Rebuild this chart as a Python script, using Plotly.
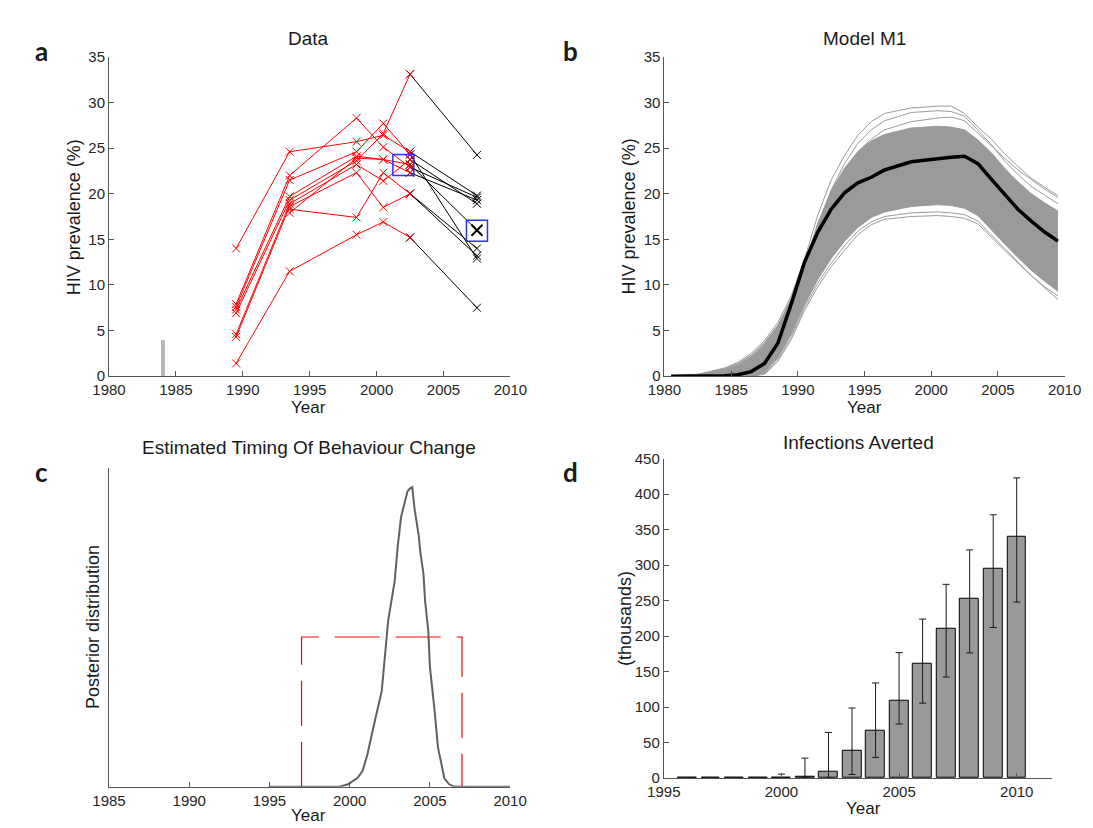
import plotly.graph_objects as go

# ---------------- data ----------------
# Panel a: survey prevalence by site (%)
survey_years = [1989.5, 1993.5, 1998.5, 2000.5, 2002.5, 2007.5]
site_1 = [14.0, 24.6, 25.7, 26.4, 24.6, 19.8]
site_2 = [7.9, 22.0, 28.3, 25.1, 22.9, 19.6]
site_3 = [7.6, 21.5, 24.6, 27.7, 24.3, 12.9]
site_4 = [7.3, 19.7, 24.1, 23.75, 22.3, 19.3]
site_5 = [6.9, 19.3, 23.6, 26.6, 33.1, 24.25]
site_6 = [4.6, 18.9, 23.2, 21.4, 23.75, 18.9]
site_7 = [4.3, 18.6, 22.3, 18.5, 20.0, 13.2]
site_8 = [1.4, 11.5, 15.5, 16.9, 15.2, 7.5]
site_9 = [None, 18.3, 17.4, 22.3, 20.0, 14.0]
site_10 = [None, 17.9, 23.9, 23.75, 23.2, 16.0]
sites = [site_1, site_2, site_3, site_4, site_5, site_6, site_7, site_8, site_9, site_10]
mean_marker_x = [2002.0, 2007.5]
mean_marker_y = [23.15, 15.95]
first_case_year = [1984]
first_case_value = [4.0]

# Panel b: model M1 trajectories (%)
model_years = [1980.5, 1982.5, 1984.5, 1985.5, 1986.5, 1987.5, 1988.5, 1989.5, 1990.5,
               1991.5, 1992.5, 1993.5, 1994.5, 1995.5, 1996.5, 1998.5, 2000.5, 2001.5,
               2002.5, 2003.5, 2004.5, 2005.5, 2006.5, 2007.5, 2008.5, 2009.5]
model_mean = [0.0, 0.0, 0.05, 0.15, 0.5, 1.4, 3.6, 7.9, 12.5, 15.8, 18.3, 20.1, 21.2,
              21.8, 22.6, 23.5, 23.85, 24.0, 24.1, 23.3, 21.6, 19.9, 18.3, 17.0, 15.8, 14.8]
core_upper = [0.05, 0.15, 0.7, 1.2, 2.1, 3.5, 5.5, 8.5, 12.3, 16.8, 20.3, 22.8, 24.6,
              25.8, 26.5, 27.2, 27.4, 27.3, 27.0, 25.9, 24.5, 22.8, 21.3, 20.0, 19.0, 18.1]
core_lower = [0.0, 0.0, 0.0, 0.0, 0.05, 0.4, 2.0, 4.6, 7.8, 10.6, 12.9, 14.8, 16.3,
              17.4, 18.0, 18.6, 18.8, 18.7, 18.4, 17.6, 16.0, 14.5, 13.0, 11.6, 10.4, 9.3]
run_high_1 = [0.05, 0.2, 0.9, 1.5, 2.5, 3.9, 5.9, 8.8, 12.8, 17.7, 21.5, 24.2, 26.4,
              27.9, 28.8, 29.4, 29.6, 29.6, 28.8, 27.3, 26.0, 24.4, 23.0, 21.7, 20.7, 19.8]
run_high_2 = [0.05, 0.2, 0.8, 1.4, 2.3, 3.7, 5.6, 8.3, 12.0, 16.5, 20.4, 23.3, 25.5,
              27.0, 28.0, 28.9, 29.1, 29.0, 28.5, 27.0, 25.4, 23.6, 22.1, 20.8, 19.8, 18.9]
run_high_3 = [0.05, 0.15, 0.75, 1.3, 2.2, 3.6, 5.4, 8.1, 11.6, 15.9, 19.6, 22.5, 24.6,
              26.0, 27.0, 27.9, 28.3, 28.4, 28.0, 26.6, 25.3, 23.9, 22.6, 21.5, 20.5, 19.6]
run_low_1 = [0.0, 0.0, 0.0, 0.0, 0.0, 0.2, 1.6, 4.0, 7.2, 9.8, 12.0, 13.8, 15.5,
             16.6, 17.2, 17.5, 17.6, 17.5, 17.3, 16.7, 15.2, 13.8, 12.4, 11.0, 9.7, 8.4]
run_low_2 = [0.0, 0.0, 0.0, 0.0, 0.02, 0.3, 1.8, 4.3, 7.5, 10.2, 12.4, 14.3, 15.9,
             16.9, 17.5, 17.9, 18.0, 17.9, 17.7, 17.0, 15.5, 13.9, 12.4, 11.0, 9.8, 8.8]
outlier_runs = [run_high_1, run_high_2, run_high_3, run_low_1, run_low_2]

# Panel c: posterior density of behaviour-change year
post_years = [1995, 1999.3, 1999.9, 2000.5, 2000.8, 2001.1, 2001.6, 2002.0, 2002.4,
              2002.8, 2003.0, 2003.2, 2003.6, 2003.75, 2003.9, 2004.05, 2004.3, 2004.4,
              2004.6, 2004.7, 2004.9, 2005.0, 2005.3, 2005.5, 2005.9, 2006.2, 2006.5,
              2007.1, 2010]
post_density = [0, 0, 0.0017, 0.0061, 0.0105, 0.0214, 0.0455, 0.064, 0.111, 0.137,
                0.161, 0.180, 0.197, 0.199, 0.200, 0.185, 0.168, 0.157, 0.142, 0.124,
                0.104, 0.080, 0.050, 0.0267, 0.0057, 0.0017, 0.0002, 0, 0]
prior_x = [1997, 1997, 2007, 2007]
prior_y = [0, 0.1, 0.1, 0]

# Panel d: infections averted (thousands)
bar_years = [1996, 1997, 1998, 1999, 2000, 2001, 2002, 2003, 2004, 2005, 2006, 2007, 2008, 2009, 2010]
averted = [0.2, 0.3, 0.4, 0.5, 0.8, 1.5, 9.2, 38.1, 67.0, 108.4, 160.7, 210.8, 253.0, 295.3, 340.3]
averted_upper = [0.2, 0.3, 0.4, 0.5, 5.5, 28.0, 64.3, 98.7, 134.0, 176.8, 224.0, 273.0, 321.5, 371.0, 423.0]
averted_lower = [0.2, 0.3, 0.4, 0.5, 0.3, 0.5, 0.0, 5.0, 29.0, 76.2, 105.6, 142.4, 176.3, 212.2, 248.0]

# ---------------- figure ----------------
W, H = 1093, 828
def px(x):
    return x / W
def py(y):
    return 1 - y / H

RED = "#ff0000"
BLACK = "#000000"
BLUE = "#2f2fff"
fig = go.Figure()

def xmark(color, size=8, width=1):
    return dict(symbol="x-thin-open", size=size, color=color,
                line=dict(color=color, width=width))

# Panel a
fig.add_trace(go.Bar(x=first_case_year, y=first_case_value, width=[0.3],
                     marker=dict(color="#b8b8b8", line=dict(width=0)),
                     xaxis="x", yaxis="y", showlegend=False))
for s in sites:
    fig.add_trace(go.Scatter(x=survey_years[4:6], y=s[4:6], mode="lines+markers",
                             line=dict(color=BLACK, width=1), marker=xmark(BLACK),
                             xaxis="x", yaxis="y", showlegend=False))
for s in sites:
    xs = [x for x, v in zip(survey_years[:5], s[:5]) if v is not None]
    ys = [v for v in s[:5] if v is not None]
    fig.add_trace(go.Scatter(x=xs, y=ys, mode="lines+markers",
                             line=dict(color=RED, width=1), marker=xmark(RED),
                             xaxis="x", yaxis="y", showlegend=False))
fig.add_trace(go.Scatter(x=[survey_years[5]], y=[site_10[5]], mode="markers",
                         marker=xmark(BLACK, size=11, width=2),
                         xaxis="x", yaxis="y", showlegend=False))
fig.add_trace(go.Scatter(x=mean_marker_x, y=mean_marker_y, mode="markers",
                         marker=dict(symbol="square-open", size=21, color=BLUE,
                                     line=dict(color=BLUE, width=1.5)),
                         xaxis="x", yaxis="y", showlegend=False))

# Panel b
GRAY = "#9a9a9a"
fig.add_trace(go.Scatter(x=model_years, y=core_lower, mode="lines",
                         line=dict(color=GRAY, width=1), xaxis="x2", yaxis="y2",
                         showlegend=False))
fig.add_trace(go.Scatter(x=model_years, y=core_upper, mode="lines", fill="tonexty",
                         fillcolor=GRAY, line=dict(color=GRAY, width=1),
                         xaxis="x2", yaxis="y2", showlegend=False))
for r in outlier_runs:
    fig.add_trace(go.Scatter(x=model_years, y=r, mode="lines",
                             line=dict(color=GRAY, width=1), xaxis="x2", yaxis="y2",
                             showlegend=False))
fig.add_trace(go.Scatter(x=model_years, y=model_mean, mode="lines",
                         line=dict(color=BLACK, width=3.5), xaxis="x2", yaxis="y2",
                         showlegend=False))

# Panel c
fig.add_trace(go.Scatter(x=prior_x, y=prior_y, mode="lines",
                         line=dict(color=RED, width=1.2, dash="45px,16px"),
                         xaxis="x3", yaxis="y3", showlegend=False))
fig.add_trace(go.Scatter(x=post_years, y=post_density, mode="lines",
                         line=dict(color="#606060", width=2), xaxis="x3", yaxis="y3",
                         showlegend=False))

# Panel d
err_plus = [u - v for u, v in zip(averted_upper, averted)]
err_minus = [v - l for v, l in zip(averted, averted_lower)]
fig.add_trace(go.Bar(x=bar_years, y=averted, width=0.8,
                     marker=dict(color="#999999", line=dict(color=BLACK, width=1)),
                     error_y=dict(type="data", symmetric=False, array=err_plus,
                                  arrayminus=err_minus, color="#1a1a1a",
                                  thickness=1, width=3.5),
                     xaxis="x4", yaxis="y4", showlegend=False))

TICKFONT = dict(family="Liberation Sans, Arial, sans-serif", size=15, color="#262626")
def ax(**kw):
    base = dict(showline=True, linecolor="#555555", linewidth=1, ticks="inside",
                ticklen=5, tickcolor="#555555", showgrid=False, zeroline=False,
                tickfont=TICKFONT, fixedrange=True)
    base.update(kw)
    return base

fig.update_layout(
    width=W, height=H, margin=dict(l=0, r=0, t=0, b=0),
    paper_bgcolor="white", plot_bgcolor="white", showlegend=False,
    bargap=0,
    xaxis=ax(domain=[px(86.7), px(501)], range=[1980, 2010], tickvals=[1980, 1985, 1990, 1995, 2000, 2005, 2010], anchor="y"),
    yaxis=ax(domain=[py(366.7), py(40.7)], range=[0, 35], tickvals=[0, 5, 10, 15, 20, 25, 30, 35], anchor="x"),
    xaxis2=ax(domain=[px(660), px(1073)], range=[1980, 2010], tickvals=[1980, 1985, 1990, 1995, 2000, 2005, 2010], anchor="y2"),
    yaxis2=ax(domain=[py(366.7), py(40.7)], range=[0, 35], tickvals=[0, 5, 10, 15, 20, 25, 30, 35], anchor="x2"),
    xaxis3=ax(domain=[px(86.7), px(500.7)], range=[1985, 2010], tickvals=[1985, 1990, 1995, 2000, 2005, 2010], anchor="y3"),
    yaxis3=ax(domain=[py(786), py(460.7)], range=[0, 0.2126], ticks="", showticklabels=False, anchor="x3"),
    xaxis4=ax(domain=[px(659.3), px(1060)], range=[1995, 2011.5], tickvals=[1995, 2000, 2005, 2010], anchor="y4"),
    yaxis4=ax(domain=[py(777), py(451)], range=[0, 450], tickvals=list(range(0, 451, 50)), anchor="x4"),
)

FONT = "Liberation Sans, Arial, sans-serif"
def label(text, x, y, size=17, angle=0, bold=False, family=FONT):
    fig.add_annotation(text=("<b>%s</b>" % text) if bold else text,
                       x=px(x), y=py(y), xref="paper", yref="paper",
                       showarrow=False, textangle=angle, xanchor="center", yanchor="middle",
                       font=dict(family=family, size=size, color="#1a1a1a"))

label("Data", 293, 22, size=19)
label("Model M1", 866, 22, size=19)
label("Estimated Timing Of Behaviour Change", 293, 440, size=19)
label("Infections Averted", 860, 434, size=19)
label("HIV prevalence (%)", 50, 204, size=18, angle=-90)
label("HIV prevalence (%)", 623, 204, size=18, angle=-90)
label("Posterior distribution", 70, 623, size=18, angle=-90)
label("(thousands)", 620, 614, size=18, angle=-90)
label("Year", 293, 399)
label("Year", 866, 399)
label("Year", 293, 815)
label("Year", 865, 808)
PANEL_FONT = "Lato, Open Sans, sans-serif"
label("a", 17, 35, size=26, bold=True, family=PANEL_FONT)
label("b", 563, 35, size=26, bold=True, family=PANEL_FONT)
label("c", 17, 465, size=26, bold=True, family=PANEL_FONT)
label("d", 563, 465, size=26, bold=True, family=PANEL_FONT)

fig.write_html("out.html")
